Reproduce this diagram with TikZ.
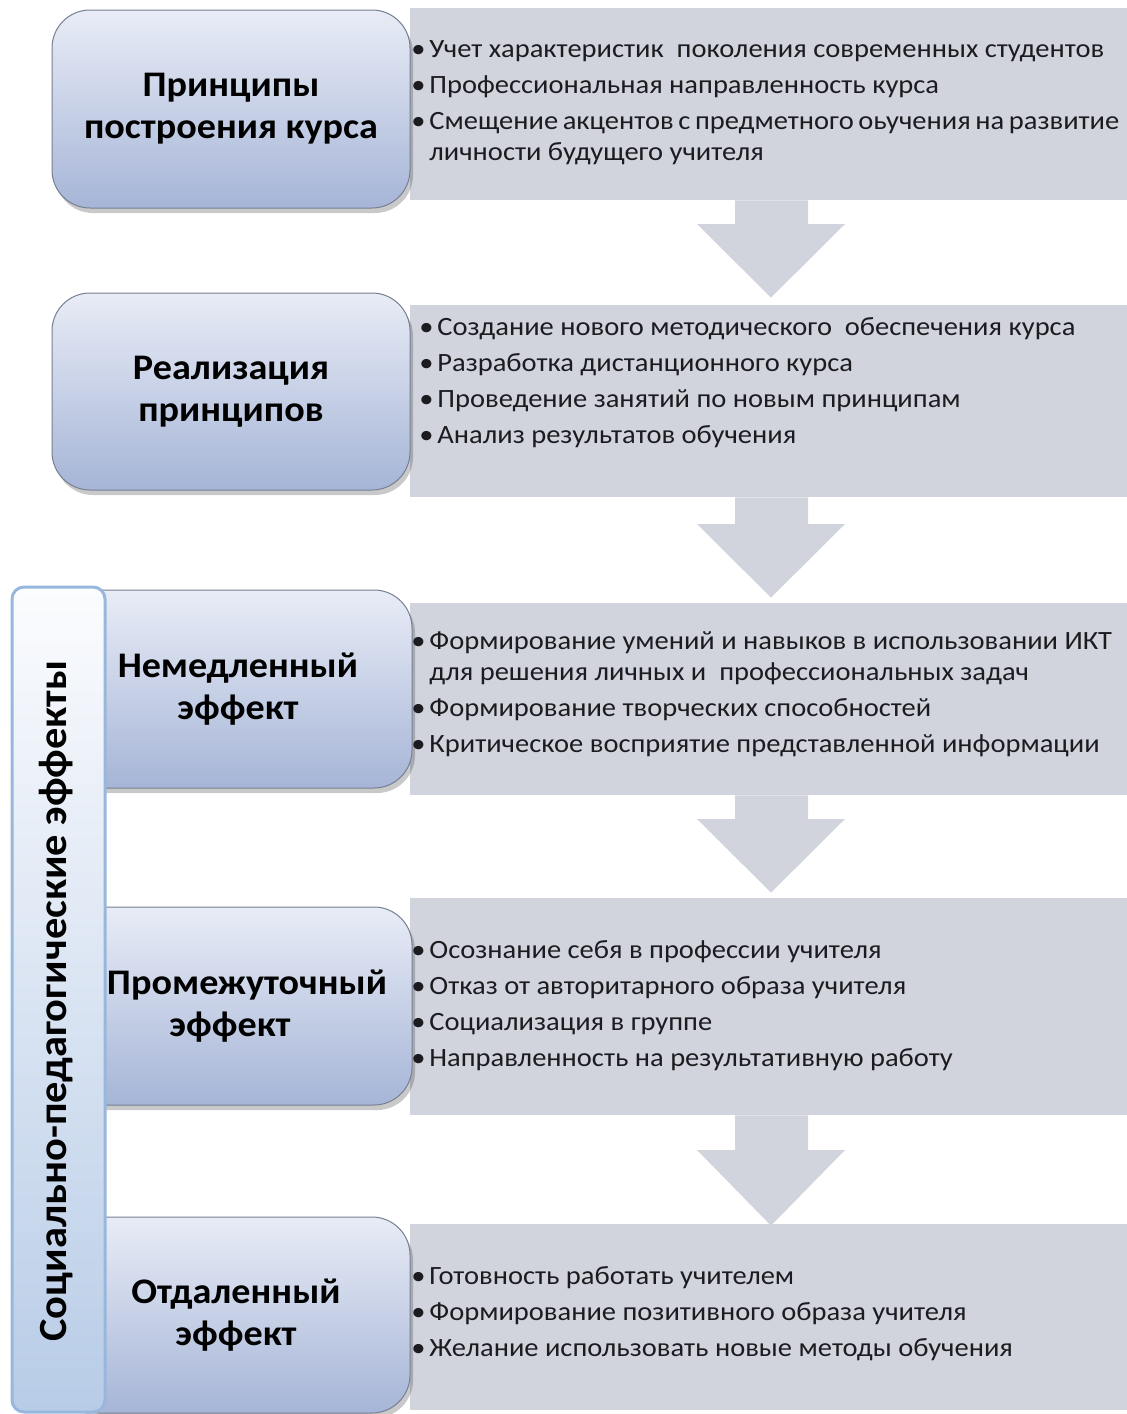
\documentclass[tikz,border=0pt]{standalone}
\usepackage{fontspec}
\setmainfont{Carlito}
\newfontfamily\itemfont[FakeStretch=1.08]{Carlito}
\newfontfamily\stagefont[FakeStretch=1.06]{Carlito}
\usetikzlibrary{shadows,calc}
\definecolor{panelgray}{RGB}{209,212,221}
\definecolor{boxtop}{RGB}{232,236,246}
\definecolor{boxbot}{RGB}{166,181,215}
\definecolor{boxedge}{RGB}{118,128,146}
\definecolor{bartop}{RGB}{251,252,254}
\definecolor{barbot}{RGB}{184,204,231}
\definecolor{baredge}{RGB}{152,183,220}
\definecolor{textdark}{RGB}{28,28,32}
\newcommand\bitem[1]{\hbox{\makebox[9pt][l]{\textbullet}#1}}
\newcommand\bcont[1]{\hbox{\hspace{9pt}#1}}
\newcommand\bgap{\vskip 2.25pt}
\begin{document}
\begin{tikzpicture}[x=0.5pt,y=-0.5pt,
  stage/.style={rectangle, rounded corners=19pt, draw=boxedge, line width=0.5pt,
    top color=boxtop, bottom color=boxbot,
    drop shadow={shadow xshift=1.5pt, shadow yshift=-2.5pt, opacity=0.3, fill=black!70},
    font=\stagefont\bfseries\fontsize{18}{21}\selectfont, align=center, text=black,
    inner sep=0pt, minimum width=179pt},
  panel/.style={rectangle, fill=panelgray, inner sep=0pt, minimum width=358.5pt},
  items/.style={anchor=base west, inner sep=0pt, font=\itemfont\fontsize{13.2}{15.75}\selectfont, text=textdark},
  flow/.style={fill=panelgray},
  sidebar/.style={rectangle, rounded corners=6pt, draw=baredge, line width=1.5pt,
    top color=bartop, bottom color=barbot, minimum width=46.5pt, minimum height=412.5pt, inner sep=0pt},
  sidelabel/.style={rotate=90, font=\stagefont\bfseries\fontsize{20}{23}\selectfont, text=black, inner sep=0pt}
]
\useasboundingbox (0,0) rectangle (1127,1414);

% grey panels
\node[panel, minimum height=96pt]    (p1) at (768.5,104) {};
\node[panel, minimum height=96pt]    (p2) at (768.5,401) {};
\node[panel, minimum height=96pt]    (p3) at (768.5,699) {};
\node[panel, minimum height=108.5pt] (p4) at (768.5,1006.5) {};
\node[panel, minimum height=93pt]    (p5) at (768.5,1317) {};

% down arrows between panels
\fill[flow] (735,0 |- p1.south) -- (808,0 |- p1.south) -- (808,224) -- (845,224)
  -- ($(771,0 |- p2.north)+(0,-7)$) -- (697,224) -- (735,224) -- cycle;
\fill[flow] (735,0 |- p2.south) -- (808,0 |- p2.south) -- (808,524) -- (845,524)
  -- ($(771,0 |- p3.north)+(0,-5)$) -- (697,524) -- (735,524) -- cycle;
\fill[flow] (735,0 |- p3.south) -- (808,0 |- p3.south) -- (808,819) -- (845,819)
  -- ($(771,0 |- p4.north)+(0,-5)$) -- (697,819) -- (735,819) -- cycle;
\fill[flow] (735,0 |- p4.south) -- (808,0 |- p4.south) -- (808,1150) -- (845,1150)
  -- ($(771,0 |- p5.north)+(0,2)$) -- (697,1150) -- (735,1150) -- cycle;

% stage boxes
\node[stage, minimum height=99pt]   (b1) at (231,109)   {Принципы\\построения курса};
\node[stage, minimum height=98.5pt] (b2) at (231,391.5) {Реализация\\принципов};
\node[stage, minimum height=99pt, minimum width=174pt]   (b3) at (238,689)   {Немедленный\\эффект};
\node[stage, minimum height=99pt, minimum width=174pt]   (b4) at (238,1006)  {\hspace*{9pt}Промежуточный\\эффект\hspace*{8pt}};
\node[stage, minimum height=98pt, minimum width=174pt]   (b5) at (236,1315)  {Отдаленный\\эффект};

% bullet texts
\node[items] (t1) at (411,57) {\vtop{%
  \bitem{Учет характеристик\ \ поколения современных студентов}\bgap
  \bitem{Профессиональная направленность курса}\bgap
  \bitem{\spaceskip=2.3pt Смещение акцентов с предметного оьучения на развитие}
  \bcont{личности будущего учителя}}};
\node[items] (t2) at (419,335) {\vtop{%
  \bitem{Создание нового методического\ \ обеспечения курса}\bgap
  \bitem{Разработка дистанционного курса}\bgap
  \bitem{Проведение занятий по новым принципам}\bgap
  \bitem{Анализ результатов обучения}}};
\node[items] (t3) at (411,649) {\vtop{%
  \bitem{Формирование умений и навыков в использовании ИКТ}
  \bcont{для решения личных и\ \ профессиональных задач}\bgap
  \bitem{Формирование творческих способностей}\bgap
  \bitem{Критическое восприятие представленной информации}}};
\node[items] (t4) at (411,958) {\vtop{%
  \bitem{Осознание себя в профессии учителя}\bgap
  \bitem{Отказ от авторитарного образа учителя}\bgap
  \bitem{Социализация в группе}\bgap
  \bitem{Направленность на результативную работу}}};
\node[items] (t5) at (411,1284) {\vtop{%
  \bitem{Готовность работать учителем}\bgap
  \bitem{Формирование позитивного образа учителя}\bgap
  \bitem{Желание использовать новые методы обучения}}};

% side bar
\node[sidebar] (bar) at (58.5,999.5) {};
\node[sidelabel] (barlabel) at (56,1001) {Социально-педагогические эффекты};
\end{tikzpicture}
\end{document}
